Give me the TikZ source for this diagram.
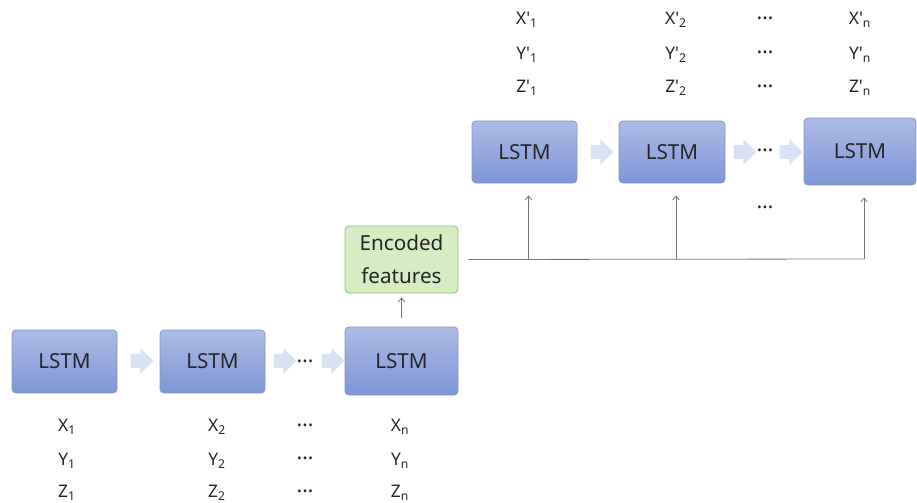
\documentclass[tikz,border=0pt]{standalone}
\usepackage{fontspec}
\setmainfont{Noto Sans}
\usetikzlibrary{arrows.meta,shapes.arrows}
\definecolor{lstmtop}{HTML}{ADBBE6}
\definecolor{lstmbot}{HTML}{7D96D6}
\definecolor{lstmedge}{HTML}{8696C4}
\definecolor{featfill}{HTML}{D5EDC3}
\definecolor{featedge}{HTML}{92BC78}
\definecolor{flowfill}{HTML}{D9E1F4}
\definecolor{wire}{HTML}{777777}
\tikzset{
  lstm/.style={rectangle,rounded corners=3pt,draw=lstmedge,line width=0.6pt,top color=lstmtop,bottom color=lstmbot,font=\fontsize{15.5}{18}\selectfont,text=black!85},
  featbox/.style={rectangle,rounded corners=3pt,draw=featedge,line width=0.6pt,fill=featfill,font=\fontsize{15.5}{25}\selectfont,text=black!85,align=center},
  flow/.style={single arrow,fill=flowfill,draw=none,inner xsep=0pt,inner ysep=5pt,minimum height=17pt,single arrow head extend=4.5pt,single arrow head indent=0pt},
  lbl/.style={font=\fontsize{13}{15}\selectfont,text=black!85,inner sep=0pt},
  gap/.style={font=\fontsize{16}{18}\selectfont,text=black!85,inner sep=0pt},
  feed/.style={draw=wire,line width=0.6pt,-{Straight Barb[length=3pt,width=5pt]}}
}
\begin{document}
\begin{tikzpicture}[x=0.75pt,y=0.75pt,yscale=-1,xscale=1]
    \useasboundingbox (0,0) rectangle (917,503);
    % encoder LSTMs
    \node [lstm,minimum width=78.75pt,minimum height=47.25pt] (enc1) at (64.5,361.5) {LSTM};
    \node [lstm,minimum width=78.75pt,minimum height=47.25pt] (enc2) at (212.5,361.5) {LSTM};
    \node [lstm,minimum width=84.75pt,minimum height=51pt] (enc3) at (401.5,361) {LSTM};
    \node [flow] (ea1) at (138.5,361) {};
    \node [flow] (ea2) at (281.5,361) {};
    \node [gap] (edots) at (305,361) {\textellipsis};
    \node [flow] (ea3) at (329.5,361) {};
    % encoded features
    \node [featbox,minimum width=84.75pt,minimum height=50.25pt] (feat) at (401.5,259.5) {Encoded\\features};
    \draw [feed] ([yshift=-6.75pt]enc3.north) -- ([yshift=3pt]feat.south);
    % decoder LSTMs
    \node [lstm,minimum width=78.75pt,minimum height=46.5pt] (dec1) at (524.5,152) {LSTM};
    \node [lstm,minimum width=79.5pt,minimum height=46.5pt] (dec2) at (672,152) {LSTM};
    \node [lstm,minimum width=84pt,minimum height=50.25pt] (dec3) at (860,151.5) {LSTM};
    \node [flow] (da1) at (598.5,152) {};
    \node [flow] (da2) at (741.5,152) {};
    \node [gap] (ddots) at (765,150) {\textellipsis};
    \node [flow] (da3) at (787.5,152) {};
    \node [gap] (vdots) at (765,207) {\textellipsis};
    % feature bus
    \coordinate (bus) at (864,259);
    \draw [wire,line width=0.6pt] ([xshift=7.5pt]feat.east) -- (bus);
    \draw [feed] ([xshift=3pt]dec1.south |- bus) -- ([xshift=3pt,yshift=9pt]dec1.south);
    \draw [feed] ([xshift=3pt]dec2.south |- bus) -- ([xshift=3pt,yshift=9pt]dec2.south);
    \draw [feed] (bus) -- ([xshift=3pt,yshift=9pt]dec3.south);
    % Text Node
    \node [lbl] (x1) at (67,427) {X\textsubscript{1}};
    \node [lbl] (y1) at (67,461) {Y\textsubscript{1}};
    \node [lbl] (z1) at (67,493) {Z\textsubscript{1}};
    \node [lbl] (x2) at (217,427) {X\textsubscript{2}};
    \node [lbl] (y2) at (217,461) {Y\textsubscript{2}};
    \node [lbl] (z2) at (217,493) {Z\textsubscript{2}};
    \node [gap] (xd) at (305,425) {\textellipsis};
    \node [gap] (yd) at (305,458) {\textellipsis};
    \node [gap] (zd) at (305,491) {\textellipsis};
    \node [lbl] (xn) at (400,427) {X\textsubscript{n}};
    \node [lbl] (yn) at (400,461) {Y\textsubscript{n}};
    \node [lbl] (zn) at (400,493) {Z\textsubscript{n}};
    % Text Node
    \node [lbl] (ox1) at (527,20) {X\textquotesingle\textsubscript{1}};
    \node [lbl] (oy1) at (527,55) {Y\textquotesingle\textsubscript{1}};
    \node [lbl] (oz1) at (527,88) {Z\textquotesingle\textsubscript{1}};
    \node [lbl] (ox2) at (676,20) {X\textquotesingle\textsubscript{2}};
    \node [lbl] (oy2) at (676,55) {Y\textquotesingle\textsubscript{2}};
    \node [lbl] (oz2) at (676,88) {Z\textquotesingle\textsubscript{2}};
    \node [gap] (oxd) at (765,18) {\textellipsis};
    \node [gap] (oyd) at (765,52) {\textellipsis};
    \node [gap] (ozd) at (765,86) {\textellipsis};
    \node [lbl] (oxn) at (860,20) {X\textquotesingle\textsubscript{n}};
    \node [lbl] (oyn) at (860,55) {Y\textquotesingle\textsubscript{n}};
    \node [lbl] (ozn) at (860,88) {Z\textquotesingle\textsubscript{n}};
\end{tikzpicture}
\end{document}
